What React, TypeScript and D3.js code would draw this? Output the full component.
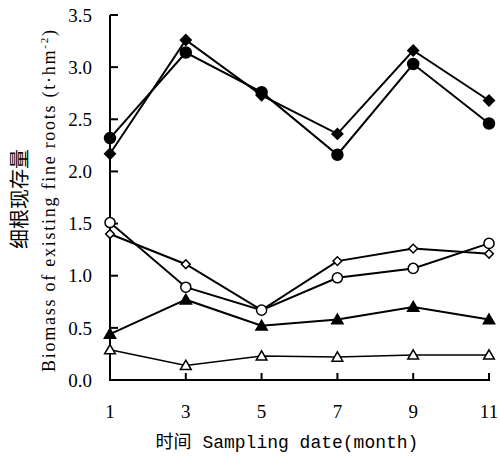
import React from 'react';
import * as d3 from 'd3';

// sampling months
const months = [1, 3, 5, 7, 9, 11];

// fine root biomass (t·hm-2)
const filledDiamond = [2.17, 3.26, 2.73, 2.36, 3.16, 2.68];
const filledCircle = [2.32, 3.14, 2.76, 2.16, 3.03, 2.46];
const openCircle = [1.51, 0.89, 0.67, 0.98, 1.07, 1.31];
const openDiamond = [1.40, 1.11, 0.67, 1.14, 1.26, 1.21];
const filledTriangle = [0.44, 0.77, 0.52, 0.58, 0.70, 0.58];
const openTriangle = [0.29, 0.14, 0.23, 0.22, 0.24, 0.24];

const yTicks = [0, 0.5, 1.0, 1.5, 2.0, 2.5, 3.0, 3.5];

const series = [
  { values: openTriangle, shape: d3.symbolTriangle, size: 50, fill: 'white', width: 1.5, rot: 0 },
  { values: filledTriangle, shape: d3.symbolTriangle, size: 55, fill: 'black', width: 2, rot: 0 },
  { values: openDiamond, shape: d3.symbolSquare, size: 38, fill: 'white', width: 2, rot: 45 },
  { values: openCircle, shape: d3.symbolCircle, size: 80, fill: 'white', width: 2, rot: 0 },
  { values: filledCircle, shape: d3.symbolCircle, size: 95, fill: 'black', width: 2, rot: 0 },
  { values: filledDiamond, shape: d3.symbolSquare, size: 58, fill: 'black', width: 2, rot: 45 },
];

const App = () => {
  const width = 500;
  const height = 461;
  const margin = { top: 15, right: 11, bottom: 81, left: 110 };

  const x = d3.scaleLinear()
    .domain([1, 11])
    .range([margin.left, width - margin.right]);

  const y = d3.scaleLinear()
    .domain([0, 3.5])
    .range([height - margin.bottom, margin.top]);

  const line = d3.line<number>()
    .x((d, i) => x(months[i]))
    .y(d => y(d));

  const serif = '"Liberation Serif", "Times New Roman", serif';
  const cjk = '"Noto Sans CJK SC", sans-serif';

  return (
    <svg width={width} height={height}
      style={{ position: 'absolute', left: 0, top: 0, background: 'white' }}>
      {/* axes */}
      <line x1={x(1)} x2={x(1)} y1={y(3.5)} y2={y(0)} stroke="black" strokeWidth={2} />
      <line x1={x(1) - 1} x2={x(11) + 1} y1={y(0)} y2={y(0)} stroke="black" strokeWidth={2} />

      {yTicks.map(t => (
        <g key={t}>
          <line x1={x(1)} x2={x(1) + 8} y1={y(t)} y2={y(t)} stroke="black" strokeWidth={2} />
          <text x={92} y={y(t)} dy="0.35em" textAnchor="end" fill="#000"
            fontFamily={serif} fontSize={19}>{t.toFixed(1)}</text>
        </g>
      ))}

      {months.map(m => (
        <g key={m}>
          {m > 1 && <line x1={x(m)} x2={x(m)} y1={y(0)} y2={y(0) - 7} stroke="black" strokeWidth={2} />}
          <text x={x(m)} y={418} textAnchor="middle" fill="#000"
            fontFamily={serif} fontSize={19}>{m}</text>
        </g>
      ))}

      {/* series */}
      {series.map((s, i) => (
        <g key={i}>
          <path d={line(s.values) || ''} fill="none" stroke="black" strokeWidth={s.width} />
          {s.values.map((v, j) => (
            <path key={j}
              d={d3.symbol().type(s.shape).size(s.size)() || ''}
              transform={`translate(${x(months[j])},${y(v) + (s.shape === d3.symbolTriangle ? 1 : 0)}) rotate(${s.rot})`}
              fill={s.fill} stroke="black" strokeWidth={1.5} />
          ))}
        </g>
      ))}

      {/* axis titles */}
      <text x={287} y={448} textAnchor="middle" fontSize={18} fill="#000"
        fontFamily={'"Liberation Mono", "Noto Sans CJK SC", monospace'}>
        <tspan fontFamily={cjk}>时间</tspan>{'\u00A0'}Sampling date(month)
      </text>

      <text transform="translate(27,199) rotate(-90)" textAnchor="middle" fill="#000"
        fontFamily={cjk} fontSize={20}>细根现存量</text>
      <text transform="translate(55,201) rotate(-90)" textAnchor="middle" fill="#000"
        fontFamily={serif} fontSize={18} textLength={342} lengthAdjust="spacing">
        Biomass of existing fine roots (t·hm<tspan fontSize={11} dy={-7}>-2</tspan><tspan dy={7}>)</tspan>
      </text>
    </svg>
  );
};

export default App;
